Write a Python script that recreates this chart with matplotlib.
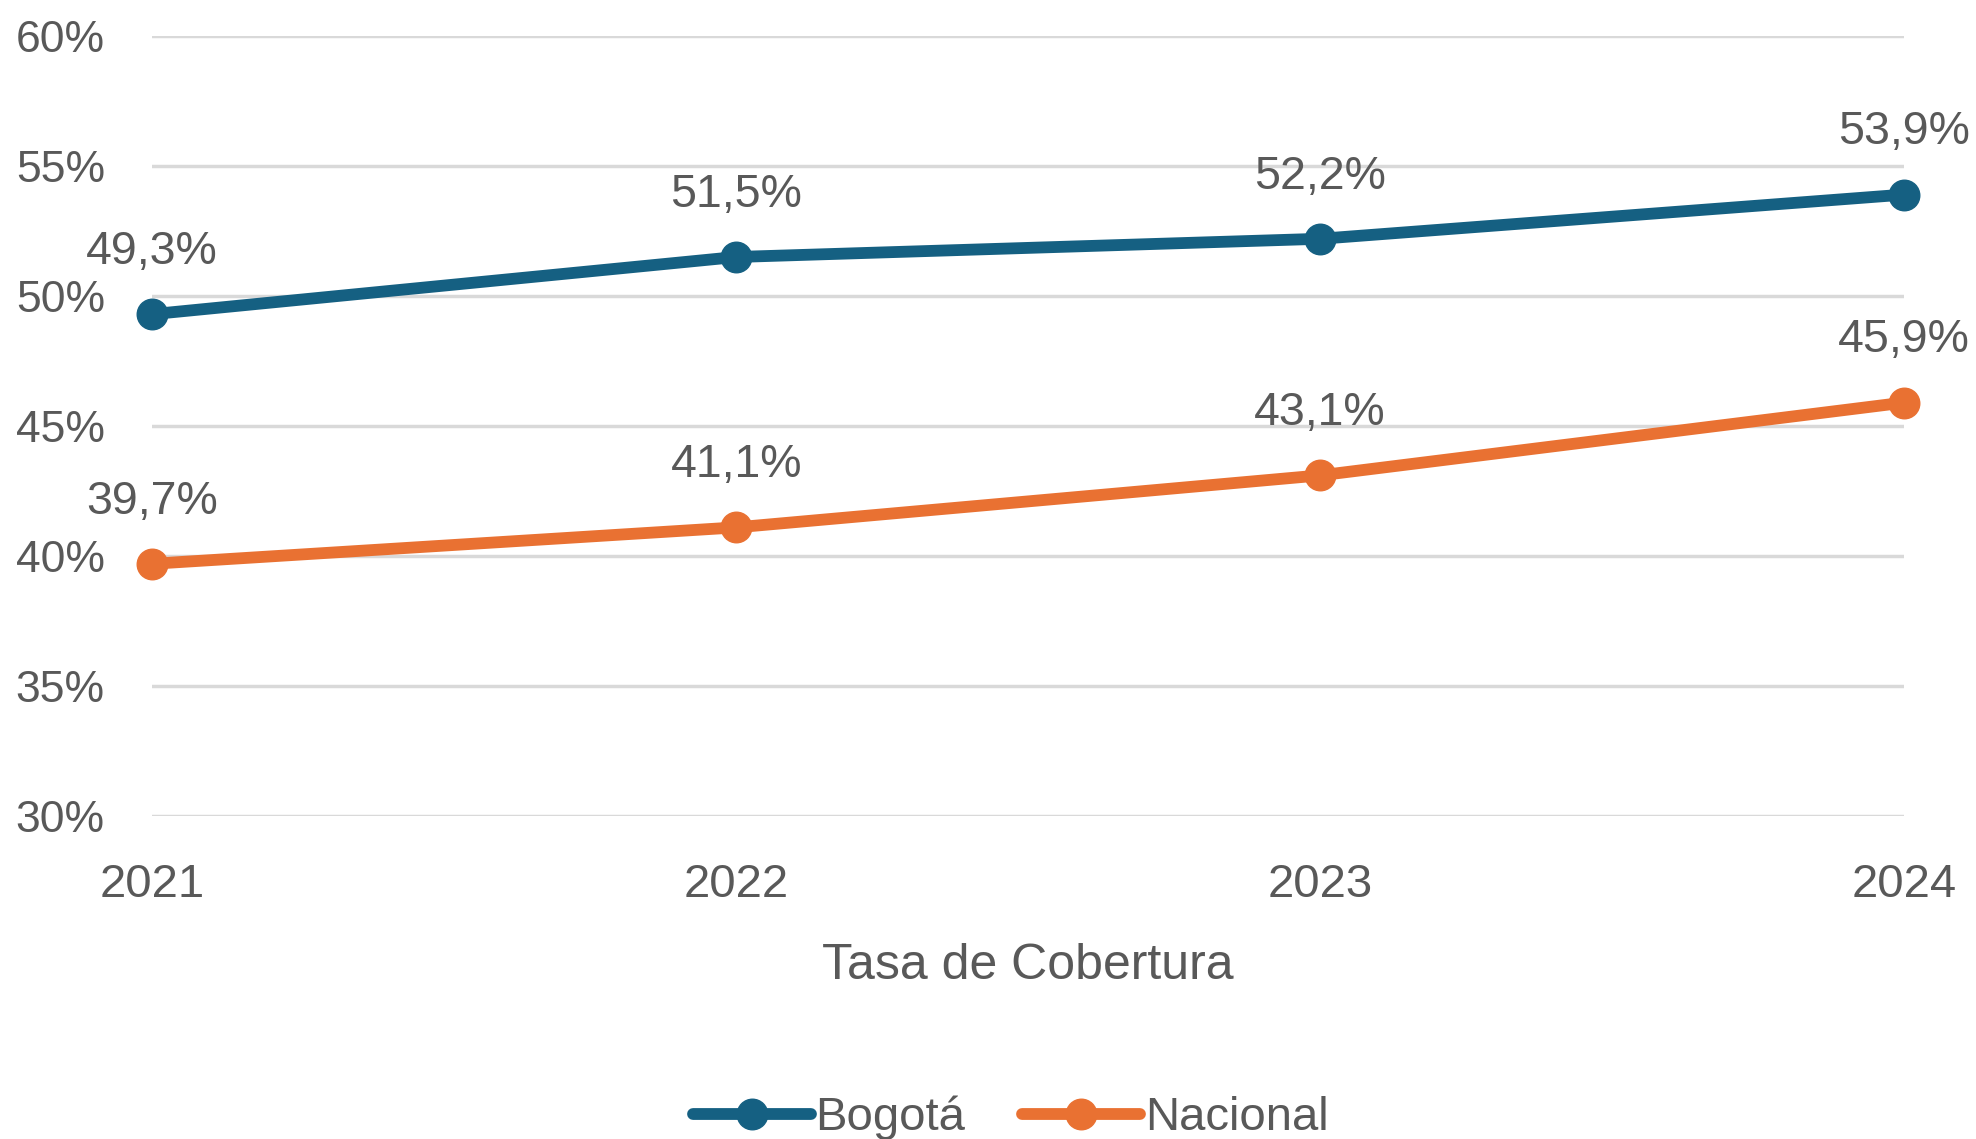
import matplotlib.pyplot as plt
from matplotlib.ticker import FuncFormatter

years = [2021, 2022, 2023, 2024]
bogota = [49.3, 51.5, 52.2, 53.9]
nacional = [39.7, 41.1, 43.1, 45.9]
yticks = [30, 35, 40, 45, 50, 55, 60]

BLUE, ORANGE, GRID, TXT = "#156082", "#E97132", "#D9D9D9", "#595959"
SANS = ["Liberation Sans", "DejaVu Sans"]
NARROW = ["Liberation Sans Narrow", "Liberation Sans", "DejaVu Sans"]

fig = plt.figure(figsize=(19.76, 11.39), dpi=100)
ax = fig.add_axes([0.077, 0.2836, 0.8866, 0.6848])

for vals, col, name in ((bogota, BLUE, "Bogotá"), (nacional, ORANGE, "Nacional")):
    ax.plot(years, vals, color=col, lw=8.5, marker="o", ms=22, label=name,
            clip_on=False, zorder=3, solid_capstyle="round")
    for x, v in zip(years, vals):
        ax.annotate(f"{v:.1f}%".replace(".", ","), (x, v), xytext=(0, 29),
                    textcoords="offset points", ha="center", va="bottom",
                    fontsize=33.5, color=TXT, family=SANS)

ax.set_xlim(years[0], years[-1])
ax.set_ylim(yticks[0], yticks[-1])
ax.set_yticks(yticks)
ax.yaxis.set_major_formatter(FuncFormatter(lambda v, p: f"{v:.0f}%"))
ax.set_xticks(years)
ax.grid(axis="y", color=GRID, lw=2.5)
ax.set_axisbelow(True)
for s in ax.spines.values():
    s.set_visible(False)
ax.tick_params(length=0, labelcolor=TXT)
ax.tick_params(axis="y", pad=34, labelsize=32)
ax.tick_params(axis="x", pad=34, labelsize=34)
for t in ax.get_xticklabels() + ax.get_yticklabels():
    t.set_family(SANS)

ax.set_xlabel("Tasa de Cobertura", fontsize=36, color=TXT, family=NARROW, labelpad=26)
ax.legend(loc="lower center", bbox_to_anchor=(0.49, -0.47), ncol=2, frameon=False,
          prop={"family": NARROW, "size": 34}, labelcolor=TXT, handlelength=2.5,
          handletextpad=0.1, columnspacing=1.2)

fig.savefig("out.png", dpi=100, facecolor="white")
